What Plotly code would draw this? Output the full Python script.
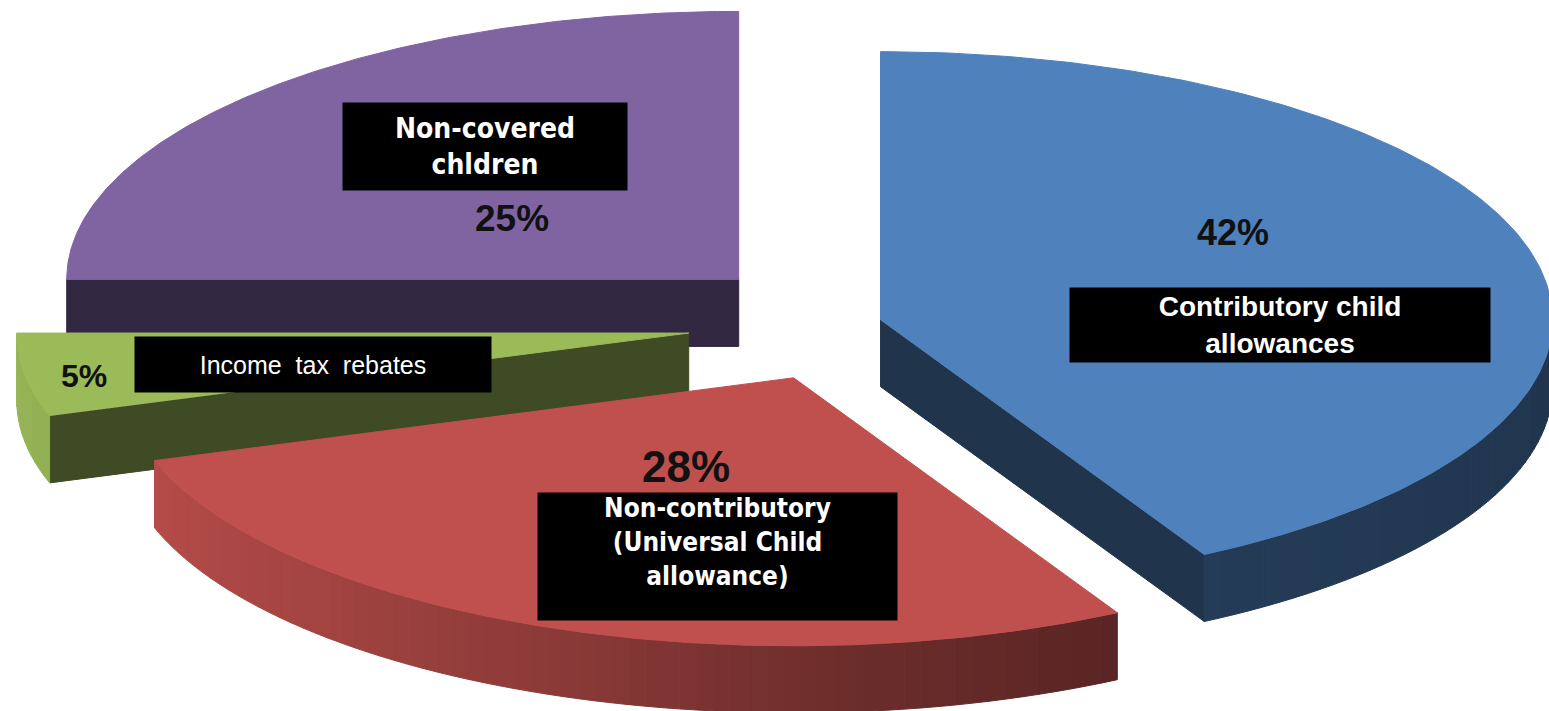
import numpy as np
import plotly.graph_objects as go

# ---------------- data ----------------
categories = ["Contributory child allowances",
              "Non-contributory (Universal Child allowance)",
              "Income tax rebates",
              "Non-covered children"]
values = [42, 28, 5, 25]
percent_labels = ["42%", "28%", "5%", "25%"]
box_labels = ["Contributory child<br>allowances",
              "Non-contributory<br>(Universal Child<br>allowance)",
              "Income\u00a0 tax\u00a0 rebates",
              "Non-covered<br>chldren"]

# ---------------- style ----------------
top_colors = ["#4F81BD", "#C0504D", "#9BBB59", "#8064A2"]
pulls = [0.05, 0.22, 0.24, 0.23]
W, H = 1549, 711
CX, CY = 848, H - 323
RX, RY, DEPTH = 672, 268, 67
SIDE_F = 0.40


def shade(hexc, f):
    h = hexc.lstrip("#")
    r, g, b = int(h[0:2], 16), int(h[2:4], 16), int(h[4:6], 16)
    return f"rgb({min(255, round(r * f))},{min(255, round(g * f))},{min(255, round(b * f))})"


def wall_factor(theta):
    return float(np.interp(theta, [90, 150, 175, 200, 225, 252, 270],
                           [0.40, 0.46, 0.56, 0.72, 0.85, 0.94, 0.97]))


total = float(sum(values))
spans = [360.0 * v / total for v in values]
starts = list(np.concatenate([[0.0], np.cumsum(spans)[:-1]]))

centers = []
for i in range(len(values)):
    mid = np.radians(starts[i] + spans[i] / 2)
    centers.append((CX + RX * np.sin(mid) * pulls[i], CY + RY * np.cos(mid) * pulls[i]))

fig = go.Figure()


def poly(pts, color):
    xs = [p[0] for p in pts] + [pts[0][0]]
    ys = [p[1] for p in pts] + [pts[0][1]]
    fig.add_trace(go.Scatter(x=xs, y=ys, mode="lines", fill="toself",
                             fillcolor=color, line=dict(color=color, width=1),
                             hoverinfo="skip", showlegend=False))


order = sorted(range(len(values)), key=lambda i: -centers[i][1])
for i in order:
    cx, cy = centers[i]
    a, b = starts[i], starts[i] + spans[i]

    def pt(th, dz=0.0):
        t = np.radians(th)
        return (cx + RX * np.sin(t), cy + RY * np.cos(t) - dz)

    side = shade(top_colors[i], SIDE_F)
    if np.sin(np.radians(a)) < -1e-6:
        poly([(cx, cy), pt(a), pt(a, DEPTH), (cx, cy - DEPTH)], side)
    if np.sin(np.radians(b)) > 1e-6:
        poly([(cx, cy), pt(b), pt(b, DEPTH), (cx, cy - DEPTH)], side)
    lo, hi = max(a, 90.0), min(b, 270.0)
    if hi > lo:
        n = max(2, int(np.ceil((hi - lo) / 1.5)))
        edges = np.linspace(lo, hi, n + 1)
        for t1, t2 in zip(edges[:-1], edges[1:]):
            col = shade(top_colors[i], wall_factor((t1 + t2) / 2))
            poly([pt(t1), pt(t2), pt(t2, DEPTH), pt(t1, DEPTH)], col)
    arc = [pt(t) for t in np.linspace(a, b, 200)]
    poly([(cx, cy)] + arc, top_colors[i])

bold_font = "Liberation Sans, Arial, sans-serif"
narrow_font = "Liberation Sans Narrow, DejaVu Sans Condensed, Arial Narrow, Liberation Sans, sans-serif"

annotations = [
    # percent labels
    dict(x=1233, y=H - 232, text=f"<b>{percent_labels[0]}</b>",
         font=dict(family=bold_font, size=36, color="#111111")),
    dict(x=686, y=H - 466, text=f"<b>{percent_labels[1]}</b>",
         font=dict(family=bold_font, size=44, color="#111111")),
    dict(x=84, y=H - 376, text=f"<b>{percent_labels[2]}</b>",
         font=dict(family=bold_font, size=32, color="#111111")),
    dict(x=512, y=H - 218, text=f"<b>{percent_labels[3]}</b>",
         font=dict(family=bold_font, size=37, color="#111111")),
    # boxed category labels
    dict(x=1280, y=H - 325, text=f"<b>{box_labels[0]}</b>", width=420, height=74,
         bgcolor="black", borderpad=0, valign="middle",
         font=dict(family=bold_font, size=28, color="white")),
    dict(x=717.5, y=H - 556.5, text=f"<b>{box_labels[1]}</b>", width=359, height=127,
         bgcolor="black", borderpad=0, valign="top",
         font=dict(family=narrow_font, size=26, color="white")),
    dict(x=313, y=H - 364.5, text=box_labels[2], width=356, height=55,
         bgcolor="black", borderpad=0, valign="middle",
         font=dict(family=bold_font, size=25, color="white")),
    dict(x=485, y=H - 146.5, text=f"<b>{box_labels[3]}</b>", width=284, height=87,
         bgcolor="black", borderpad=0, valign="middle",
         font=dict(family=narrow_font, size=28, color="white")),
]
for an in annotations:
    an.update(xref="x", yref="y", showarrow=False, align="center")

fig.update_layout(
    width=W, height=H, margin=dict(l=0, r=0, t=0, b=0),
    paper_bgcolor="white", plot_bgcolor="white", showlegend=False,
    xaxis=dict(range=[0, W], visible=False, fixedrange=True),
    yaxis=dict(range=[0, H], visible=False, fixedrange=True),
    annotations=annotations,
)

fig.write_html("out.html", config={"displayModeBar": False},
               post_script="document.body.style.margin='0';document.body.style.overflow='hidden';")
